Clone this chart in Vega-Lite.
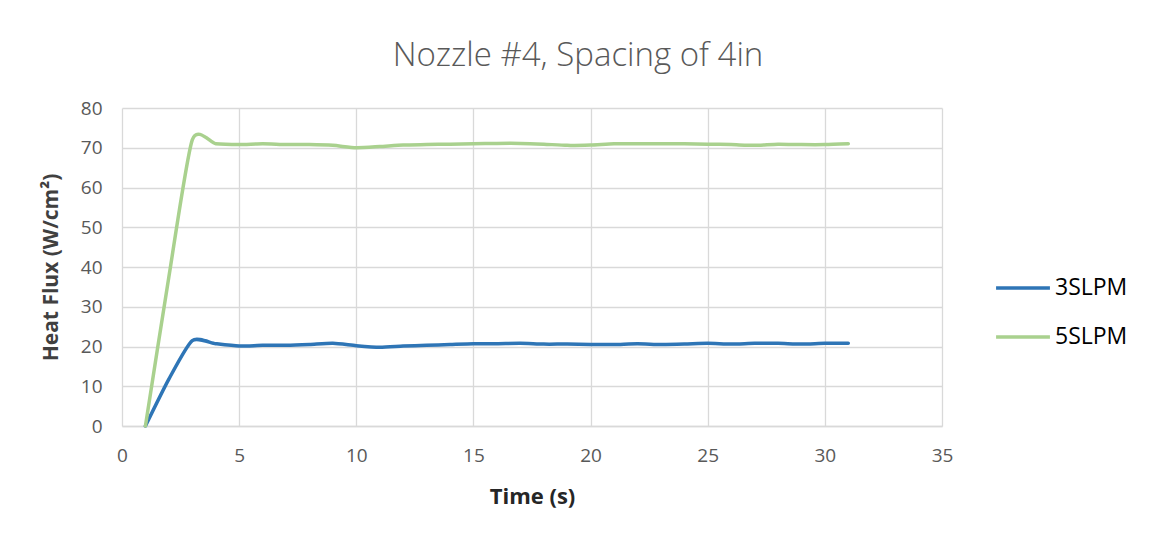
{
  "$schema": "https://vega.github.io/schema/vega-lite/v6.json",
  "autosize": {"type": "none"},
  "width": 820,
  "height": 318,
  "padding": {"left": 122, "top": 108, "right": 210, "bottom": 114},
  "background": "white",
  "title": {
    "text": "Nozzle #4, Spacing of 4in",
    "font": "Open Sans",
    "fontWeight": 300,
    "fontSize": 33,
    "color": "#595959",
    "anchor": "middle",
    "dx": 46,
    "offset": 26
  },
  "config": {
    "view": {"stroke": null},
    "axis": {
      "gridColor": "#d9d9d9",
      "gridWidth": 1.3,
      "ticks": false,
      "labelFont": "Open Sans",
      "labelFontSize": 19,
      "labelColor": "#595959",
      "labelFlush": false,
      "titleFont": "Open Sans",
      "titleFontSize": 21,
      "titleFontWeight": "bold",
      "titleColor": "#333333"
    }
  },
  "data": {
    "values": [
      {"t": 1, "s": "3SLPM", "v": 0},
      {"t": 2, "s": "3SLPM", "v": 11.8},
      {"t": 3, "s": "3SLPM", "v": 21.5},
      {"t": 4, "s": "3SLPM", "v": 20.7},
      {"t": 5, "s": "3SLPM", "v": 20.1},
      {"t": 6, "s": "3SLPM", "v": 20.3},
      {"t": 7, "s": "3SLPM", "v": 20.3},
      {"t": 8, "s": "3SLPM", "v": 20.5},
      {"t": 9, "s": "3SLPM", "v": 20.8},
      {"t": 10, "s": "3SLPM", "v": 20.2},
      {"t": 11, "s": "3SLPM", "v": 19.8},
      {"t": 12, "s": "3SLPM", "v": 20.1},
      {"t": 13, "s": "3SLPM", "v": 20.3},
      {"t": 14, "s": "3SLPM", "v": 20.5},
      {"t": 15, "s": "3SLPM", "v": 20.7},
      {"t": 16, "s": "3SLPM", "v": 20.7},
      {"t": 17, "s": "3SLPM", "v": 20.8},
      {"t": 18, "s": "3SLPM", "v": 20.6},
      {"t": 19, "s": "3SLPM", "v": 20.6},
      {"t": 20, "s": "3SLPM", "v": 20.5},
      {"t": 21, "s": "3SLPM", "v": 20.5},
      {"t": 22, "s": "3SLPM", "v": 20.7},
      {"t": 23, "s": "3SLPM", "v": 20.5},
      {"t": 24, "s": "3SLPM", "v": 20.6},
      {"t": 25, "s": "3SLPM", "v": 20.8},
      {"t": 26, "s": "3SLPM", "v": 20.6},
      {"t": 27, "s": "3SLPM", "v": 20.8},
      {"t": 28, "s": "3SLPM", "v": 20.8},
      {"t": 29, "s": "3SLPM", "v": 20.6},
      {"t": 30, "s": "3SLPM", "v": 20.8},
      {"t": 31, "s": "3SLPM", "v": 20.8},
      {"t": 1, "s": "5SLPM", "v": 0},
      {"t": 2, "s": "5SLPM", "v": 37.5},
      {"t": 3, "s": "5SLPM", "v": 72.0},
      {"t": 4, "s": "5SLPM", "v": 71.0},
      {"t": 5, "s": "5SLPM", "v": 70.8},
      {"t": 6, "s": "5SLPM", "v": 71.0},
      {"t": 7, "s": "5SLPM", "v": 70.8},
      {"t": 8, "s": "5SLPM", "v": 70.8},
      {"t": 9, "s": "5SLPM", "v": 70.6},
      {"t": 10, "s": "5SLPM", "v": 70.0},
      {"t": 11, "s": "5SLPM", "v": 70.3},
      {"t": 12, "s": "5SLPM", "v": 70.7},
      {"t": 13, "s": "5SLPM", "v": 70.8},
      {"t": 14, "s": "5SLPM", "v": 70.9},
      {"t": 15, "s": "5SLPM", "v": 71.0},
      {"t": 16, "s": "5SLPM", "v": 71.1},
      {"t": 17, "s": "5SLPM", "v": 71.1},
      {"t": 18, "s": "5SLPM", "v": 70.9},
      {"t": 19, "s": "5SLPM", "v": 70.6},
      {"t": 20, "s": "5SLPM", "v": 70.7},
      {"t": 21, "s": "5SLPM", "v": 71.0},
      {"t": 22, "s": "5SLPM", "v": 71.0},
      {"t": 23, "s": "5SLPM", "v": 71.0},
      {"t": 24, "s": "5SLPM", "v": 71.0},
      {"t": 25, "s": "5SLPM", "v": 70.9},
      {"t": 26, "s": "5SLPM", "v": 70.8},
      {"t": 27, "s": "5SLPM", "v": 70.6},
      {"t": 28, "s": "5SLPM", "v": 70.9},
      {"t": 29, "s": "5SLPM", "v": 70.8},
      {"t": 30, "s": "5SLPM", "v": 70.8},
      {"t": 31, "s": "5SLPM", "v": 71.0}
    ]
  },
  "mark": {"type": "line", "interpolate": "cardinal", "tension": 0.35, "strokeWidth": 3.5, "strokeCap": "round"},
  "encoding": {
    "x": {
      "field": "t", "type": "quantitative", "title": "Time (s)",
      "scale": {"domain": [0, 35], "nice": false},
      "axis": {"values": [0, 5, 10, 15, 20, 25, 30, 35], "labelPadding": 20, "titlePadding": 21, "titleFontSize": 22, "titleColor": "#262626", "domainColor": "#d9d9d9", "domainWidth": 1.3}
    },
    "y": {
      "field": "v", "type": "quantitative", "title": "Heat Flux (W/cm²)",
      "scale": {"domain": [0, 80], "nice": false},
      "axis": {"values": [0, 10, 20, 30, 40, 50, 60, 70, 80], "labelPadding": 20, "titlePadding": 19, "titleColor": "#404040", "domain": false}
    },
    "color": {
      "field": "s", "type": "nominal", "title": null,
      "scale": {"domain": ["3SLPM", "5SLPM"], "range": ["#2E75B6", "#A9D18E"]},
      "legend": {
        "orient": "none", "legendX": 872, "legendY": 151,
        "symbolType": "stroke", "symbolSize": 2900, "symbolStrokeWidth": 3.5,
        "labelFont": "Open Sans", "labelFontSize": 23, "labelColor": "#000000",
        "labelOffset": 3, "rowPadding": 8
      }
    }
  }
}
